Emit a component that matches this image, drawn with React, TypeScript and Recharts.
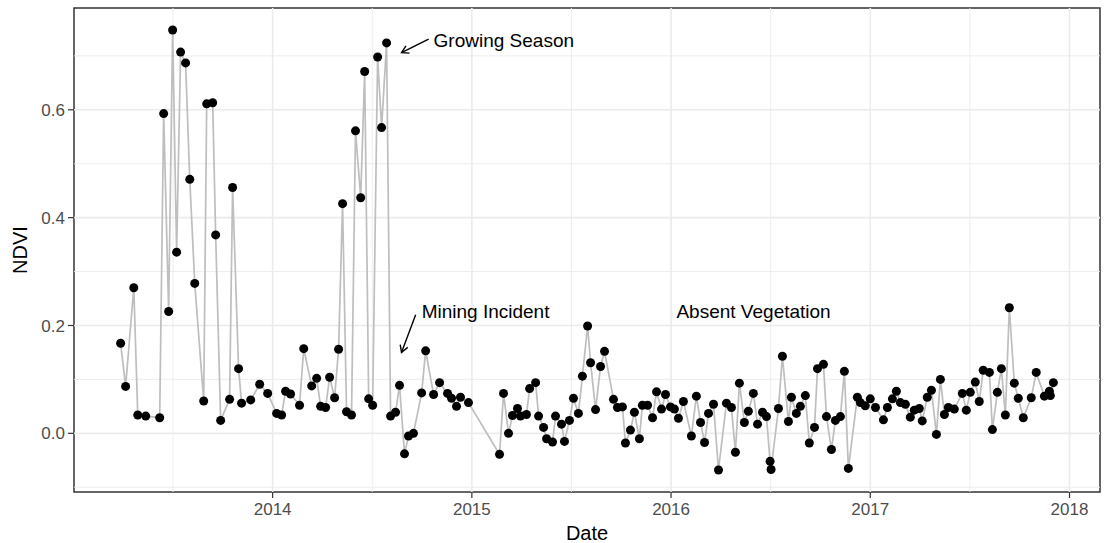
import {
  Line,
  LineChart,
  ReferenceArea,
  ReferenceDot,
  ReferenceLine,
  XAxis,
  YAxis,
} from "recharts";

// acquisition dates as decimal years
const dates = [
  2013.237, 2013.262, 2013.303, 2013.323, 2013.363, 2013.433, 2013.453, 2013.478, 2013.498, 2013.518,
  2013.538, 2013.563, 2013.584, 2013.609, 2013.654, 2013.669, 2013.699, 2013.714, 2013.739, 2013.784,
  2013.799, 2013.829, 2013.844, 2013.89, 2013.935, 2013.975, 2014.02, 2014.045, 2014.065, 2014.09,
  2014.135, 2014.156, 2014.196, 2014.221, 2014.241, 2014.266, 2014.286, 2014.311, 2014.331, 2014.351,
  2014.371, 2014.396, 2014.416, 2014.442, 2014.462, 2014.482, 2014.502, 2014.527, 2014.547, 2014.572,
  2014.592, 2014.617, 2014.637, 2014.662, 2014.682, 2014.707, 2014.748, 2014.768, 2014.808, 2014.838,
  2014.878, 2014.898, 2014.923, 2014.943, 2014.983, 2015.139, 2015.159, 2015.184, 2015.204, 2015.229,
  2015.244, 2015.274, 2015.29, 2015.32, 2015.335, 2015.36, 2015.375, 2015.405, 2015.42, 2015.45,
  2015.465, 2015.49, 2015.51, 2015.535, 2015.555, 2015.581, 2015.596, 2015.621, 2015.646, 2015.666,
  2015.711, 2015.731, 2015.756, 2015.771, 2015.796, 2015.816, 2015.841, 2015.856, 2015.882, 2015.907,
  2015.927, 2015.952, 2015.972, 2015.997, 2016.017, 2016.037, 2016.062, 2016.102, 2016.127, 2016.148,
  2016.168, 2016.188, 2016.213, 2016.238, 2016.278, 2016.303, 2016.323, 2016.343, 2016.368, 2016.388,
  2016.413, 2016.434, 2016.459, 2016.479, 2016.497, 2016.502, 2016.539, 2016.559, 2016.589, 2016.604,
  2016.629, 2016.649, 2016.674, 2016.694, 2016.72, 2016.735, 2016.765, 2016.78, 2016.805, 2016.825,
  2016.85, 2016.87, 2016.89, 2016.935, 2016.95, 2016.975, 2017.0, 2017.026, 2017.066, 2017.086,
  2017.111, 2017.131, 2017.151, 2017.176, 2017.201, 2017.221, 2017.246, 2017.261, 2017.286, 2017.307,
  2017.332, 2017.352, 2017.372, 2017.392, 2017.422, 2017.462, 2017.482, 2017.502, 2017.527, 2017.547,
  2017.567, 2017.598, 2017.613, 2017.638, 2017.658, 2017.678, 2017.698, 2017.723, 2017.743, 2017.768,
  2017.808, 2017.833, 2017.874, 2017.899, 2017.904, 2017.919,
];

const ndvi = [
  0.167, 0.087, 0.27, 0.034, 0.032, 0.029, 0.593, 0.226, 0.748, 0.336,
  0.707, 0.687, 0.471, 0.278, 0.06, 0.611, 0.613, 0.368, 0.024, 0.063,
  0.456, 0.12, 0.056, 0.062, 0.091, 0.074, 0.037, 0.034, 0.078, 0.073,
  0.052, 0.157, 0.088, 0.102, 0.05, 0.048, 0.104, 0.066, 0.156, 0.426,
  0.04, 0.034, 0.561, 0.437, 0.671, 0.064, 0.052, 0.698, 0.567, 0.724,
  0.032, 0.039, 0.089, -0.038, -0.005, 0.0, 0.075, 0.153, 0.072, 0.094,
  0.074, 0.065, 0.05, 0.067, 0.057, -0.039, 0.074, 0.0, 0.033, 0.046,
  0.032, 0.035, 0.083, 0.094, 0.032, 0.011, -0.01, -0.016, 0.032, 0.017,
  -0.015, 0.024, 0.065, 0.037, 0.106, 0.199, 0.131, 0.044, 0.124, 0.152,
  0.063, 0.048, 0.049, -0.018, 0.006, 0.039, -0.01, 0.052, 0.052, 0.029,
  0.077, 0.045, 0.072, 0.049, 0.045, 0.028, 0.059, -0.005, 0.069, 0.02,
  -0.017, 0.037, 0.054, -0.068, 0.056, 0.048, -0.035, 0.093, 0.02, 0.041,
  0.074, 0.017, 0.039, 0.031, -0.052, -0.067, 0.046, 0.143, 0.022, 0.067,
  0.037, 0.05, 0.07, -0.018, 0.011, 0.12, 0.128, 0.031, -0.03, 0.024,
  0.031, 0.115, -0.065, 0.067, 0.057, 0.051, 0.064, 0.048, 0.025, 0.048,
  0.064, 0.078, 0.057, 0.054, 0.03, 0.043, 0.046, 0.023, 0.067, 0.08,
  -0.002, 0.1, 0.035, 0.048, 0.045, 0.074, 0.043, 0.076, 0.095, 0.059,
  0.117, 0.113, 0.007, 0.076, 0.12, 0.034, 0.233, 0.093, 0.065, 0.029,
  0.066, 0.113, 0.069, 0.078, 0.07, 0.094,
];

const xTicks = [2014, 2015, 2016, 2017, 2018];
const xMinor = [2013.5, 2014.5, 2015.5, 2016.5, 2017.5];
const yTicks = [0, 0.2, 0.4, 0.6];
const yMinor = [-0.1, 0.1, 0.3, 0.5, 0.7];

const notes = [
  { text: "Growing Season", x: 2014.808, y: 0.728 },
  { text: "Mining Incident", x: 2014.748, y: 0.226 },
  { text: "Absent Vegetation", x: 2016.027, y: 0.226 },
];
const arrows = [
  { x1: 2014.783, y1: 0.731, x2: 2014.647, y2: 0.706 },
  { x1: 2014.718, y1: 0.22, x2: 2014.647, y2: 0.15 },
];

const data = dates.map((d, i) => ({ date: d, ndvi: ndvi[i] }));

// ggplot style 5% expansion
const pad = (lo: number, hi: number) => (hi - lo) * 0.05;
const xLo = Math.min(...dates), xHi = Math.max(...dates);
const yLo = Math.min(...ndvi), yHi = Math.max(...ndvi);
const xDomain = [xLo - pad(xLo, xHi), xHi + pad(xLo, xHi)];
const yDomain = [yLo - pad(yLo, yHi), yHi + pad(yLo, yHi)];

const FONT = "'Liberation Sans', Arial, Helvetica, sans-serif";
const GRID = "#EBEBEB";

function Arrow(props: any) {
  const { x1, y1, x2, y2 } = props;
  const a = Math.atan2(y2 - y1, x2 - x1);
  const len = 8;
  const sp = Math.PI / 6;
  const p1 = [x2 - len * Math.cos(a - sp), y2 - len * Math.sin(a - sp)];
  const p2 = [x2 - len * Math.cos(a + sp), y2 - len * Math.sin(a + sp)];
  return (
    <g>
      <line x1={x1} y1={y1} x2={x2} y2={y2} stroke="#000" strokeWidth={1.4} />
      <polyline
        points={`${p1[0]},${p1[1]} ${x2},${y2} ${p2[0]},${p2[1]}`}
        fill="none"
        stroke="#000"
        strokeWidth={1.4}
      />
    </g>
  );
}

export default function App() {
  return (
    <div style={{ position: "absolute", left: 0, top: 0, background: "#fff" }}>
      <LineChart
        width={1106}
        height={543}
        data={data}
        margin={{ top: 8, right: 6, bottom: 0, left: 0 }}
        style={{ fontFamily: FONT }}
      >
        {xMinor.map((v) => (
          <ReferenceLine key={"xm" + v} x={v} stroke={GRID} strokeWidth={0.9} />
        ))}
        {yMinor.map((v) => (
          <ReferenceLine key={"ym" + v} y={v} stroke={GRID} strokeWidth={0.9} />
        ))}
        {xTicks.map((v) => (
          <ReferenceLine key={"xM" + v} x={v} stroke={GRID} strokeWidth={1.6} />
        ))}
        {yTicks.map((v) => (
          <ReferenceLine key={"yM" + v} y={v} stroke={GRID} strokeWidth={1.6} />
        ))}
        <XAxis
          dataKey="date"
          type="number"
          domain={xDomain}
          allowDataOverflow
          ticks={xTicks}
          tickFormatter={(v) => String(v)}
          height={51}
          axisLine={false}
          tickSize={6}
          tickMargin={5}
          tickLine={{ stroke: "#333333", strokeWidth: 1.2 }}
          tick={{ fill: "#4D4D4D", fontSize: 17 }}
          label={{
            content: (p: any) => (
              <text
                x={p.viewBox.x + p.viewBox.width / 2}
                y={p.viewBox.y + 41}
                textAnchor="middle"
                dominantBaseline="central"
                fontSize={20}
                fill="#000"
              >
                Date
              </text>
            ),
          }}
        />
        <YAxis
          type="number"
          domain={yDomain}
          allowDataOverflow
          ticks={yTicks}
          tickFormatter={(v) => v.toFixed(1)}
          width={74}
          axisLine={false}
          tickSize={6}
          tickMargin={3}
          tickLine={{ stroke: "#333333", strokeWidth: 1.2 }}
          tick={{ fill: "#4D4D4D", fontSize: 17 }}
          label={{
            content: (p: any) => {
              const cx = p.viewBox.x + 20;
              const cy = p.viewBox.y + p.viewBox.height / 2;
              return (
                <text
                  x={cx}
                  y={cy}
                  transform={`rotate(-90, ${cx}, ${cy})`}
                  textAnchor="middle"
                  dominantBaseline="central"
                  fontSize={20}
                  fill="#000"
                >
                  NDVI
                </text>
              );
            },
          }}
        />
        <Line
          type="linear"
          dataKey="ndvi"
          stroke="#BEBEBE"
          strokeWidth={1.7}
          dot={{ r: 4.5, fill: "#000", stroke: "none" }}
          activeDot={false}
          isAnimationActive={false}
        />
        {arrows.map((a, i) => (
          <ReferenceLine
            key={"ar" + i}
            segment={[
              { x: a.x1, y: a.y1 },
              { x: a.x2, y: a.y2 },
            ]}
            ifOverflow="visible"
            shape={Arrow}
          />
        ))}
        {notes.map((n) => (
          <ReferenceDot
            key={n.text}
            x={n.x}
            y={n.y}
            r={1}
            fill="none"
            stroke="none"
            ifOverflow="visible"
            label={{
              content: (p: any) => (
                <text
                  x={p.viewBox.x + p.viewBox.width / 2}
                  y={p.viewBox.y + p.viewBox.height / 2}
                  textAnchor="start"
                  dominantBaseline="central"
                  fontSize={19}
                  fill="#000"
                >
                  {n.text}
                </text>
              ),
            }}
          />
        ))}
        <ReferenceArea
          x1={xDomain[0]}
          x2={xDomain[1]}
          y1={yDomain[0]}
          y2={yDomain[1]}
          fill="none"
          stroke="#333333"
          strokeWidth={1.5}
          strokeOpacity={1}
          ifOverflow="visible"
        />
      </LineChart>
    </div>
  );
}
